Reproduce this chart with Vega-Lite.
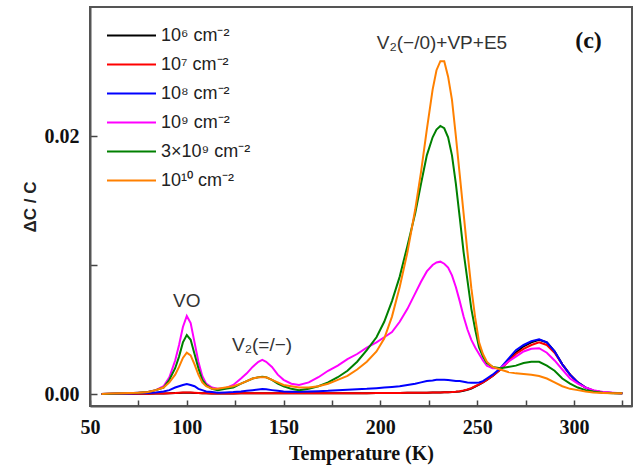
{
  "$schema": "https://vega.github.io/schema/vega-lite/v6.json",
  "width": 542,
  "height": 399,
  "autosize": "none",
  "padding": {"left": 90, "top": 7, "right": 6, "bottom": 60},
  "background": "white",
  "config": {"view": {"stroke": "#555555", "strokeWidth": 2}},
  "datasets": {
    "curves": [
      {"T":56,"k6":0,"k7":0,"k8":0,"k9":0,"k3e9":0,"k10":0},
      {"T":60,"k6":0,"k7":0,"k8":0.00002,"k9":0.00002,"k3e9":0.00002,"k10":0.00003},
      {"T":65,"k6":0.00001,"k7":0.00001,"k8":0.00003,"k9":0.00004,"k3e9":0.00004,"k10":0.00005},
      {"T":70,"k6":0.00001,"k7":0.00001,"k8":0.00004,"k9":0.00006,"k3e9":0.00006,"k10":0.00007},
      {"T":75,"k6":0.00002,"k7":0.00002,"k8":0.00006,"k9":0.0001,"k3e9":0.0001,"k10":0.0001},
      {"T":80,"k6":0.00002,"k7":0.00002,"k8":0.00008,"k9":0.00015,"k3e9":0.00015,"k10":0.00015},
      {"T":84,"k6":0.00003,"k7":0.00003,"k8":0.00012,"k9":0.0003,"k3e9":0.0003,"k10":0.0003},
      {"T":88,"k6":0.00004,"k7":0.00004,"k8":0.0002,"k9":0.0006,"k3e9":0.0005,"k10":0.0005},
      {"T":91,"k6":0.00005,"k7":0.00006,"k8":0.0003,"k9":0.0013,"k3e9":0.0011,"k10":0.0009},
      {"T":94,"k6":0.00007,"k7":0.00008,"k8":0.0005,"k9":0.0026,"k3e9":0.002,"k10":0.0015},
      {"T":96,"k6":0.00008,"k7":0.0001,"k8":0.0006,"k9":0.0038,"k3e9":0.0029,"k10":0.0021},
      {"T":98,"k6":0.0001,"k7":0.00011,"k8":0.0007,"k9":0.0052,"k3e9":0.004,"k10":0.0028},
      {"T":100,"k6":0.0001,"k7":0.00012,"k8":0.00078,"k9":0.00605,"k3e9":0.00457,"k10":0.0032},
      {"T":102,"k6":0.0001,"k7":0.00011,"k8":0.0007,"k9":0.0055,"k3e9":0.0042,"k10":0.003},
      {"T":104,"k6":0.00008,"k7":0.0001,"k8":0.0006,"k9":0.004,"k3e9":0.0031,"k10":0.0023},
      {"T":106,"k6":0.00007,"k7":0.00008,"k8":0.0004,"k9":0.0025,"k3e9":0.002,"k10":0.0015},
      {"T":108,"k6":0.00006,"k7":0.00006,"k8":0.0003,"k9":0.0014,"k3e9":0.0011,"k10":0.0009},
      {"T":110,"k6":0.00005,"k7":0.00005,"k8":0.0002,"k9":0.0008,"k3e9":0.0007,"k10":0.0006},
      {"T":113,"k6":0.00004,"k7":0.00004,"k8":0.00015,"k9":0.0005,"k3e9":0.0004,"k10":0.0004},
      {"T":116,"k6":0.00004,"k7":0.00004,"k8":0.0001,"k9":0.0004,"k3e9":0.0003,"k10":0.0004},
      {"T":120,"k6":0.00004,"k7":0.00004,"k8":0.00012,"k9":0.00045,"k3e9":0.0004,"k10":0.0005},
      {"T":124,"k6":0.00004,"k7":0.00004,"k8":0.00015,"k9":0.0007,"k3e9":0.0005,"k10":0.0006},
      {"T":128,"k6":0.00005,"k7":0.00005,"k8":0.0002,"k9":0.0012,"k3e9":0.0008,"k10":0.0008},
      {"T":131,"k6":0.00005,"k7":0.00005,"k8":0.00025,"k9":0.0016,"k3e9":0.001,"k10":0.001},
      {"T":134,"k6":0.00005,"k7":0.00005,"k8":0.0003,"k9":0.0021,"k3e9":0.0012,"k10":0.0012},
      {"T":137,"k6":0.00006,"k7":0.00006,"k8":0.00035,"k9":0.0025,"k3e9":0.0013,"k10":0.0013},
      {"T":139,"k6":0.00006,"k7":0.00006,"k8":0.00038,"k9":0.00264,"k3e9":0.00134,"k10":0.0013},
      {"T":141,"k6":0.00006,"k7":0.00006,"k8":0.00036,"k9":0.0025,"k3e9":0.0013,"k10":0.0013},
      {"T":144,"k6":0.00005,"k7":0.00005,"k8":0.0003,"k9":0.0021,"k3e9":0.0011,"k10":0.0011},
      {"T":147,"k6":0.00005,"k7":0.00005,"k8":0.00025,"k9":0.0015,"k3e9":0.0008,"k10":0.0009},
      {"T":150,"k6":0.00005,"k7":0.00005,"k8":0.0002,"k9":0.0011,"k3e9":0.0006,"k10":0.0007},
      {"T":154,"k6":0.00005,"k7":0.00005,"k8":0.00018,"k9":0.0008,"k3e9":0.0004,"k10":0.0006},
      {"T":158,"k6":0.00005,"k7":0.00005,"k8":0.00018,"k9":0.0007,"k3e9":0.0003,"k10":0.0005},
      {"T":163,"k6":0.00005,"k7":0.00005,"k8":0.0002,"k9":0.0009,"k3e9":0.0004,"k10":0.0005},
      {"T":168,"k6":0.00005,"k7":0.00005,"k8":0.00022,"k9":0.0013,"k3e9":0.0006,"k10":0.0006},
      {"T":173,"k6":0.00005,"k7":0.00005,"k8":0.00025,"k9":0.0018,"k3e9":0.0009,"k10":0.0008},
      {"T":178,"k6":0.00005,"k7":0.00005,"k8":0.0003,"k9":0.0022,"k3e9":0.0013,"k10":0.0011},
      {"T":183,"k6":0.00006,"k7":0.00006,"k8":0.00033,"k9":0.0027,"k3e9":0.0018,"k10":0.0014},
      {"T":188,"k6":0.00006,"k7":0.00006,"k8":0.00037,"k9":0.0031,"k3e9":0.0025,"k10":0.0019},
      {"T":193,"k6":0.00006,"k7":0.00006,"k8":0.0004,"k9":0.0036,"k3e9":0.0034,"k10":0.0025},
      {"T":198,"k6":0.00007,"k7":0.00007,"k8":0.00045,"k9":0.004,"k3e9":0.0044,"k10":0.0033},
      {"T":202,"k6":0.00007,"k7":0.00007,"k8":0.0005,"k9":0.0044,"k3e9":0.0056,"k10":0.0043},
      {"T":206,"k6":0.00008,"k7":0.00008,"k8":0.00055,"k9":0.0048,"k3e9":0.0072,"k10":0.006},
      {"T":210,"k6":0.00008,"k7":0.00008,"k8":0.0006,"k9":0.0056,"k3e9":0.0091,"k10":0.0083},
      {"T":214,"k6":0.00009,"k7":0.00009,"k8":0.0007,"k9":0.0066,"k3e9":0.0115,"k10":0.011},
      {"T":218,"k6":0.0001,"k7":0.0001,"k8":0.0008,"k9":0.0078,"k3e9":0.014,"k10":0.0143},
      {"T":221,"k6":0.0001,"k7":0.0001,"k8":0.0009,"k9":0.0087,"k3e9":0.0163,"k10":0.0172},
      {"T":224,"k6":0.0001,"k7":0.0001,"k8":0.001,"k9":0.0095,"k3e9":0.0185,"k10":0.0205},
      {"T":227,"k6":0.00011,"k7":0.00011,"k8":0.00105,"k9":0.01,"k3e9":0.0199,"k10":0.0236},
      {"T":229,"k6":0.00012,"k7":0.00012,"k8":0.0011,"k9":0.0102,"k3e9":0.0205,"k10":0.0251},
      {"T":231,"k6":0.00012,"k7":0.00012,"k8":0.0011,"k9":0.01026,"k3e9":0.02078,"k10":0.0258},
      {"T":233,"k6":0.00013,"k7":0.00013,"k8":0.0011,"k9":0.0101,"k3e9":0.0206,"k10":0.0258},
      {"T":235,"k6":0.00014,"k7":0.00014,"k8":0.00108,"k9":0.0098,"k3e9":0.0199,"k10":0.0246},
      {"T":237,"k6":0.00015,"k7":0.00015,"k8":0.00105,"k9":0.0092,"k3e9":0.0185,"k10":0.0228},
      {"T":239,"k6":0.00017,"k7":0.00017,"k8":0.001,"k9":0.0083,"k3e9":0.0163,"k10":0.02},
      {"T":241,"k6":0.0002,"k7":0.00022,"k8":0.001,"k9":0.0072,"k3e9":0.0137,"k10":0.017},
      {"T":243,"k6":0.00026,"k7":0.00028,"k8":0.00095,"k9":0.006,"k3e9":0.011,"k10":0.014},
      {"T":245,"k6":0.00033,"k7":0.00035,"k8":0.0009,"k9":0.005,"k3e9":0.0088,"k10":0.011},
      {"T":247,"k6":0.00043,"k7":0.00045,"k8":0.00088,"k9":0.0042,"k3e9":0.0066,"k10":0.0082},
      {"T":249,"k6":0.00058,"k7":0.0006,"k8":0.00088,"k9":0.0036,"k3e9":0.005,"k10":0.0059},
      {"T":251,"k6":0.00073,"k7":0.00075,"k8":0.0009,"k9":0.0031,"k3e9":0.0036,"k10":0.004},
      {"T":253,"k6":0.0009,"k7":0.0009,"k8":0.001,"k9":0.0026,"k3e9":0.0029,"k10":0.0031},
      {"T":255,"k6":0.0011,"k7":0.0011,"k8":0.0012,"k9":0.0022,"k3e9":0.0024,"k10":0.0025},
      {"T":258,"k6":0.0014,"k7":0.0014,"k8":0.0015,"k9":0.002,"k3e9":0.0021,"k10":0.0021},
      {"T":262,"k6":0.0019,"k7":0.0019,"k8":0.002,"k9":0.002,"k3e9":0.002,"k10":0.0019},
      {"T":266,"k6":0.0026,"k7":0.0025,"k8":0.0027,"k9":0.0025,"k3e9":0.0021,"k10":0.0017},
      {"T":270,"k6":0.0032,"k7":0.0031,"k8":0.0034,"k9":0.0029,"k3e9":0.0022,"k10":0.0016},
      {"T":274,"k6":0.0037,"k7":0.0035,"k8":0.0038,"k9":0.0033,"k3e9":0.0024,"k10":0.00155},
      {"T":278,"k6":0.004,"k7":0.0038,"k8":0.0041,"k9":0.0035,"k3e9":0.0025,"k10":0.0015},
      {"T":282,"k6":0.0042,"k7":0.004,"k8":0.00424,"k9":0.00355,"k3e9":0.0025,"k10":0.0014},
      {"T":286,"k6":0.004,"k7":0.0038,"k8":0.004,"k9":0.0032,"k3e9":0.0022,"k10":0.0012},
      {"T":290,"k6":0.0033,"k7":0.0032,"k8":0.0033,"k9":0.0026,"k3e9":0.0018,"k10":0.0009},
      {"T":294,"k6":0.0023,"k7":0.0023,"k8":0.0023,"k9":0.0019,"k3e9":0.0012,"k10":0.0006},
      {"T":298,"k6":0.0015,"k7":0.0015,"k8":0.0015,"k9":0.0012,"k3e9":0.0008,"k10":0.0004},
      {"T":302,"k6":0.0009,"k7":0.0009,"k8":0.0009,"k9":0.0008,"k3e9":0.0005,"k10":0.0003},
      {"T":306,"k6":0.0005,"k7":0.0005,"k8":0.0005,"k9":0.0005,"k3e9":0.0003,"k10":0.0002},
      {"T":310,"k6":0.00025,"k7":0.00025,"k8":0.00026,"k9":0.0003,"k3e9":0.0002,"k10":0.00012},
      {"T":315,"k6":0.00012,"k7":0.00012,"k8":0.00012,"k9":0.00015,"k3e9":0.0001,"k10":0.00008},
      {"T":320,"k6":0.00008,"k7":0.00008,"k8":0.00008,"k9":0.0001,"k3e9":0.00005,"k10":0.00005},
      {"T":325,"k6":0.00005,"k7":0.00005,"k8":0.00005,"k9":0.00005,"k3e9":0.00005,"k10":0.00005}
    ],
    "notes": [
      {"T":100,"v":0.0072,"t":"VO"},
      {"T":138.9,"v":0.0038,"t":"V₂(=/−)"},
      {"T":231.8,"v":0.0272,"t":"V₂(−/0)+VP+E5"}
    ],
    "panel": [
      {"T":307.5,"v":0.0274,"t":"(c)"}
    ]
  },
  "layer": [
    {
      "data": {"name": "curves"},
      "transform": [{"fold": ["k6","k7","k8","k9","k3e9","k10"], "as": ["s","v"]}],
      "mark": {"type": "line", "strokeWidth": 2, "clip": true},
      "encoding": {
        "x": {
          "field": "T", "type": "quantitative",
          "scale": {"domain": [50, 330], "nice": false, "zero": false},
          "axis": {
            "values": [50,75,100,125,150,175,200,225,250,275,300,325],
            "labelExpr": "datum.value % 50 === 0 ? format(datum.value, 'd') : ''",
            "title": "Temperature (K)",
            "titleFont": "Liberation Serif", "titleFontSize": 20, "titleFontWeight": "bold", "titleColor": "#111111", "titlePadding": 6,
            "labelFont": "Liberation Serif", "labelFontSize": 20, "labelFontWeight": "bold", "labelColor": "#111111",
            "labelPadding": 17, "labelFlush": false, "labelOverlap": false,
            "tickSize": -6,
            "tickColor": "#444444", "tickWidth": 1.5,
            "domainColor": "#555555", "domainWidth": 2, "grid": false
          }
        },
        "y": {
          "field": "v", "type": "quantitative",
          "scale": {"domain": [-0.00093, 0.03], "nice": false, "zero": false},
          "axis": {
            "values": [0, 0.01, 0.02],
            "labelExpr": "datum.value === 0.01 ? '' : format(datum.value, '.2f')",
            "title": "ΔC / C",
            "titleFont": "Liberation Sans", "titleFontSize": 17, "titleFontWeight": "bold", "titleColor": "#222222", "titlePadding": 5,
            "labelFont": "Liberation Serif", "labelFontSize": 20, "labelFontWeight": "bold", "labelColor": "#111111",
            "labelPadding": 18, "labelFlush": false, "labelOverlap": false,
            "tickSize": -7,
            "tickColor": "#444444", "tickWidth": 1.5,
            "domainColor": "#555555", "domainWidth": 2, "grid": false
          }
        },
        "color": {
          "field": "s", "type": "nominal",
          "scale": {
            "domain": ["k6","k7","k8","k9","k3e9","k10"],
            "range": ["#000000","#ff0000","#0000ff","#ff00ff","#008000","#ff8000"]
          },
          "legend": {
            "orient": "none", "legendX": 16, "legendY": 14,
            "title": null,
            "labelExpr": "({'k6':'10⁶ cm⁻²','k7':'10⁷ cm⁻²','k8':'10⁸ cm⁻²','k9':'10⁹ cm⁻²','k3e9':'3×10⁹ cm⁻²','k10':'10¹⁰ cm⁻²'})[datum.label]",
            "labelFont": "Liberation Sans", "labelFontSize": 18, "labelColor": "#222222", "labelOffset": 4,
            "symbolType": "stroke", "symbolSize": 2401, "symbolStrokeWidth": 2,
            "clipHeight": 29, "rowPadding": 0, "padding": 0
          }
        }
      }
    },
    {
      "data": {"name": "notes"},
      "mark": {"type": "text", "font": "Liberation Sans", "fontSize": 19, "color": "#333333", "align": "center", "baseline": "middle"},
      "encoding": {
        "x": {"field": "T", "type": "quantitative"},
        "y": {"field": "v", "type": "quantitative"},
        "text": {"field": "t"}
      }
    },
    {
      "data": {"name": "panel"},
      "mark": {"type": "text", "font": "Liberation Serif", "fontSize": 24, "fontWeight": "bold", "color": "#111111", "align": "center", "baseline": "middle"},
      "encoding": {
        "x": {"field": "T", "type": "quantitative"},
        "y": {"field": "v", "type": "quantitative"},
        "text": {"field": "t"}
      }
    }
  ]
}
